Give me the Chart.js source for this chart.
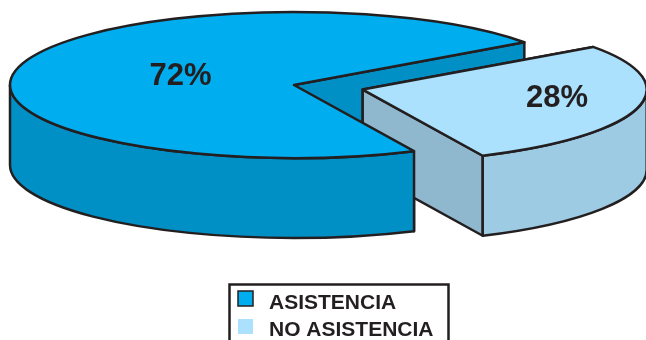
<!DOCTYPE html>
<html>
<head>
<meta charset="utf-8">
<style>
  html, body { margin: 0; padding: 0; background: #fff; overflow: hidden; }
  #wrap { position: relative; width: 646px; height: 340px; }
</style>
<script src="https://cdn.jsdelivr.net/npm/chart.js@4"></script>
</head>
<body>
<div id="wrap"><canvas id="pieChart"></canvas></div>
<script>
var categories = ['ASISTENCIA', 'NO ASISTENCIA'];
var values = [72, 28];
var percentLabels = ['72%', '28%'];

var topColors = ['#00ADEF', '#ABE1FC'];
var sideColors = ['#0090C6', '#9DCBE3'];
var wallColors = ['#0090C6', '#8FB8CE'];
var inkColor = '#231F20';

var flatten = 73 / 284; // alto / ancho de la elipse
var depth = 80;         // grosor del pastel

// posicion de los textos de porcentaje, relativa al centro de cada porcion
var labelShift = [[24, 1], [57, 0]];

function sliceCenter(el) {
  var mid = (el.startAngle + el.endAngle) / 2;
  var off = el.options.offset || 0;
  return {
    x: el.x + Math.cos(mid) * off,
    y: el.y + Math.sin(mid) * off * flatten
  };
}

function drawWall(ctx, c, r, angle, color) {
  var px = c.x + Math.cos(angle) * r;
  var py = c.y + Math.sin(angle) * r * flatten;
  ctx.beginPath();
  ctx.moveTo(c.x, c.y);
  ctx.lineTo(px, py);
  ctx.lineTo(px, py + depth);
  ctx.lineTo(c.x, c.y + depth);
  ctx.closePath();
  ctx.fillStyle = color;
  ctx.fill();
  ctx.stroke();
}

// solo la parte delantera del lado exterior (angulos entre 0 y PI, mod 2PI)
function drawSide(ctx, c, r, a0, a1, color) {
  for (var k = 0; k < 2; k++) {
    var from = Math.max(a0, k * 2 * Math.PI);
    var to = Math.min(a1, k * 2 * Math.PI + Math.PI);
    if (to <= from) continue;
    ctx.beginPath();
    ctx.ellipse(c.x, c.y, r, r * flatten, 0, from, to);
    ctx.ellipse(c.x, c.y + depth, r, r * flatten, 0, to, from, true);
    ctx.closePath();
    ctx.fillStyle = color;
    ctx.fill();
    ctx.stroke();
  }
}

function drawTop(ctx, c, r, a0, a1, color) {
  ctx.beginPath();
  ctx.moveTo(c.x, c.y);
  ctx.ellipse(c.x, c.y, r, r * flatten, 0, a0, a1);
  ctx.closePath();
  ctx.fillStyle = color;
  ctx.fill();
  ctx.stroke();
}

var pie3d = {
  id: 'pie3d',
  beforeDatasetsDraw: function (chart) {
    var ctx = chart.ctx;
    var arcs = chart.getDatasetMeta(0).data;
    ctx.save();
    ctx.strokeStyle = inkColor;
    ctx.lineWidth = 2.5;
    ctx.lineJoin = 'round';

    // pared del trozo grande primero: la porcion separada va encima de ella
    var big = arcs[0];
    drawWall(ctx, sliceCenter(big), big.outerRadius, big.startAngle, wallColors[0]);
    drawWall(ctx, sliceCenter(big), big.outerRadius, big.endAngle, wallColors[0]);

    // luego la porcion separada y al final el resto del trozo grande
    [1, 0].forEach(function (i) {
      var el = arcs[i];
      var c = sliceCenter(el);
      var r = el.outerRadius;
      if (i === 1) {
        drawWall(ctx, c, r, el.startAngle, wallColors[i]);
        drawWall(ctx, c, r, el.endAngle, wallColors[i]);
      }
      drawSide(ctx, c, r, el.startAngle, el.endAngle, sideColors[i]);
      drawTop(ctx, c, r, el.startAngle, el.endAngle, topColors[i]);
    });

    // porcentajes
    ctx.fillStyle = inkColor;
    ctx.font = 'bold 31px "Liberation Sans", Arial, sans-serif';
    ctx.textAlign = 'center';
    ctx.textBaseline = 'middle';
    arcs.forEach(function (el, i) {
      var c = sliceCenter(el);
      var mid = (el.startAngle + el.endAngle) / 2;
      ctx.fillText(
        percentLabels[i],
        c.x + Math.cos(mid) * el.outerRadius * 0.5 + labelShift[i][0],
        c.y + Math.sin(mid) * el.outerRadius * 0.5 * flatten + labelShift[i][1]
      );
    });
    ctx.restore();
    return false;
  },
  afterDraw: function (chart) {
    var ctx = chart.ctx;
    ctx.save();
    // recuadro de la leyenda, abierto por abajo
    ctx.strokeStyle = inkColor;
    ctx.lineWidth = 2.5;
    ctx.beginPath();
    ctx.moveTo(229.5, 345);
    ctx.lineTo(229.5, 284.5);
    ctx.lineTo(448.5, 284.5);
    ctx.lineTo(448.5, 345);
    ctx.stroke();

    ctx.font = 'bold 21px "Liberation Sans", Arial, sans-serif';
    ctx.textAlign = 'left';
    ctx.textBaseline = 'alphabetic';
    categories.forEach(function (name, i) {
      var y = 291 + i * 28;
      ctx.fillStyle = topColors[i];
      ctx.fillRect(238, y, 15, 15);
      if (i === 0) {
        ctx.lineWidth = 1.5;
        ctx.strokeRect(238, y, 15, 15);
      }
      ctx.fillStyle = inkColor;
      ctx.fillText(name, 269, 309 + i * 27);
    });
    ctx.restore();
  }
};

var pieChart = new Chart(document.getElementById('pieChart').getContext('2d'), {
  type: 'pie',
  data: {
    labels: categories,
    datasets: [{
      data: values,
      backgroundColor: topColors,
      offset: [0, 71]
    }]
  },
  options: {
    responsive: true,
    maintainAspectRatio: false,
    animation: false,
    rotation: 155,
    radius: 284,
    layout: { padding: { right: 58, bottom: 170 } },
    plugins: {
      legend: { display: false },
      tooltip: { enabled: false }
    }
  },
  plugins: [pie3d]
});
</script>
</body>
</html>
